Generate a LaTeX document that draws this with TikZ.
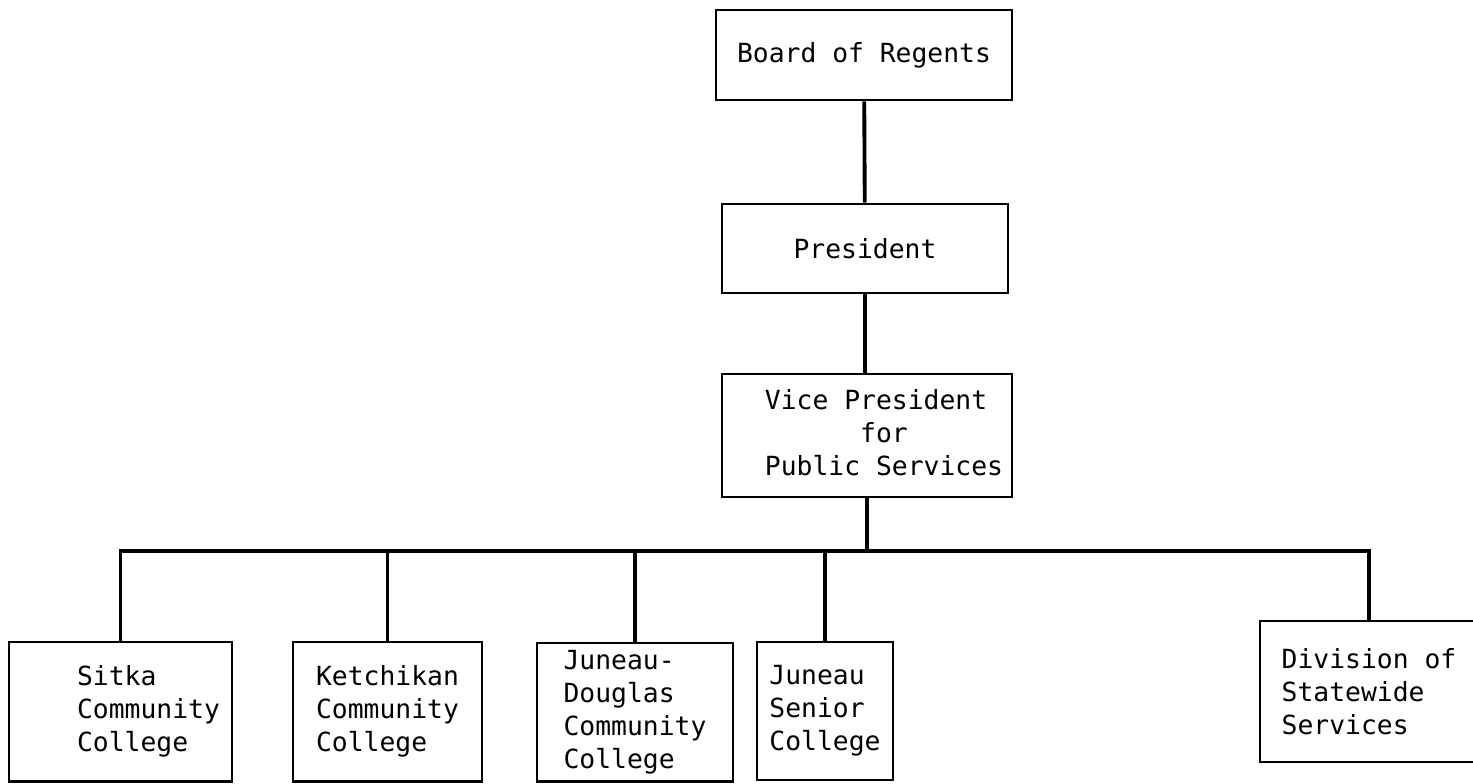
\documentclass[tikz,border=0pt]{standalone}
\usepackage{fontspec}
\setmainfont{DejaVu Sans Mono}
\usetikzlibrary{positioning,calc}

\newcommand{\padtext}[2]{\begin{tabular}{@{\hspace{#1}}l@{}}#2\end{tabular}}

\begin{document}
\begin{tikzpicture}[
    box/.style={draw, line width=1.6pt, align=left, font=\fontsize{15}{18.8}\selectfont},
    link/.style={line width=2.2pt}
]
    \useasboundingbox (0,0) rectangle (29.46,15.68);

    % Top of the chart
    \node[box, minimum width=5.92cm, minimum height=1.8cm] (regents) at (17.28,14.58) {Board of Regents};
    \node[box, minimum width=5.72cm, minimum height=1.78cm] (pres) at (17.30,10.71) {President};
    \node[box, minimum width=5.8cm, minimum height=2.46cm] (vp) at (17.34,6.97)
        {\padtext{0.68cm}{Vice President\\\hspace*{3.61em}for\\Public Services}};

    \draw[link] (regents) -- (pres);
    \draw[link] (pres.south) -- (pres.south |- vp.north);
    \coordinate (bus) at (vp.south |- 0,4.66);
    \draw[link] (vp.south) -- (bus);

    % Colleges and statewide services
    \node[box, minimum width=4.46cm, minimum height=2.79cm] (sitka) at (2.41,1.445)
        {\padtext{1.12cm}{Sitka\\Community\\College}};
    \node[box, minimum width=3.78cm, minimum height=2.79cm] (ketchikan) at (7.75,1.445)
        {Ketchikan\\Community\\College};
    \node[box, minimum width=3.92cm, minimum height=2.77cm] (jdcc) at (12.70,1.435)
        {Juneau-\\Douglas\\Community\\College};
    \node[box, minimum width=2.72cm, minimum height=2.76cm] (jsc) at (16.50,1.46)
        {Juneau\\Senior\\College};
    \node[box, minimum width=4.36cm, minimum height=2.82cm] (dss) at (27.38,1.85)
        {Division of\\Statewide\\Services};

    \foreach \n in {sitka,ketchikan,jdcc,jsc,dss}
        \draw[link] (\n.north) |- (bus);
\end{tikzpicture}
\end{document}
